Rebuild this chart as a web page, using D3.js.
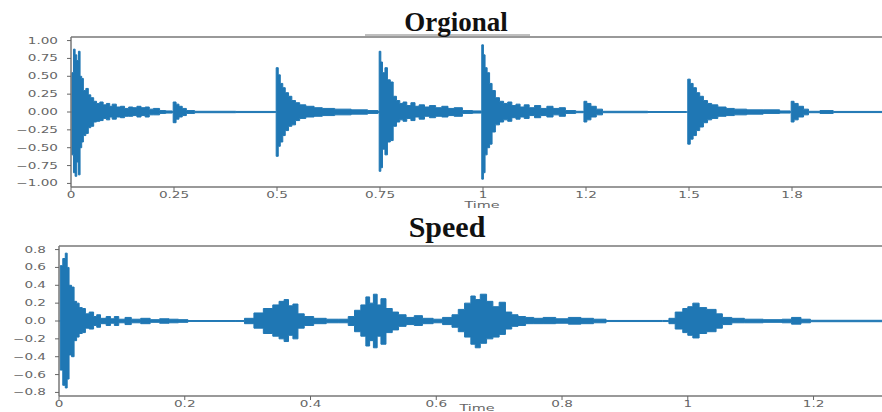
<!DOCTYPE html>
<html>
<head>
<meta charset="utf-8">
<script src="https://cdn.jsdelivr.net/npm/d3@7"></script>
<style>
    body { margin: 0; background: #fff; }
    svg { display: block; }
</style>
</head>
<body>
<div id="chart"></div>
<script>
// envelope of the original clip (seconds, upper, lower)
var origTime = [0.000, 0.002, 0.006, 0.010, 0.014, 0.018, 0.022, 0.026, 0.030, 0.036, 0.042, 0.048, 0.055, 0.062, 0.070, 0.078, 0.086, 0.094, 0.100, 0.110,
    0.120, 0.130, 0.140, 0.150, 0.160, 0.170, 0.180, 0.190, 0.200, 0.215, 0.230, 0.245, 0.248, 0.255, 0.262, 0.270, 0.280, 0.300, 0.400, 0.495,
    0.498, 0.503, 0.508, 0.514, 0.520, 0.528, 0.536, 0.545, 0.555, 0.570, 0.590, 0.610, 0.640, 0.680, 0.720, 0.745,
    0.748, 0.752, 0.756, 0.762, 0.768, 0.775, 0.782, 0.790, 0.798, 0.806, 0.815, 0.825, 0.835, 0.845, 0.858, 0.870, 0.885, 0.900, 0.915, 0.930, 0.950, 0.975, 0.995,
    0.997, 1.001, 1.005, 1.010, 1.016, 1.022, 1.030, 1.040, 1.050, 1.060, 1.070, 1.080, 1.090, 1.100, 1.112, 1.125, 1.140, 1.155, 1.170, 1.185, 1.200, 1.225, 1.243,
    1.245, 1.252, 1.262, 1.275, 1.290, 1.400, 1.494,
    1.497, 1.503, 1.510, 1.518, 1.526, 1.535, 1.545, 1.555, 1.570, 1.590, 1.610, 1.640, 1.680, 1.720, 1.746,
    1.748, 1.755, 1.765, 1.778, 1.790, 1.818, 1.850, 2.000];
var origUpper = [0.00, 0.55, 0.88, 0.80, 0.72, 0.85, 0.50, 0.47, 0.30, 0.33, 0.24, 0.20, 0.15, 0.12, 0.14, 0.10, 0.12, 0.08, 0.11, 0.07,
    0.08, 0.05, 0.07, 0.06, 0.08, 0.06, 0.07, 0.04, 0.05, 0.02, 0.015, 0.01, 0.14, 0.11, 0.08, 0.05, 0.02, 0.01, 0.008, 0.005,
    0.62, 0.52, 0.40, 0.34, 0.27, 0.22, 0.16, 0.13, 0.10, 0.08, 0.06, 0.05, 0.04, 0.03, 0.02, 0.01,
    0.85, 0.70, 0.55, 0.62, 0.45, 0.42, 0.22, 0.16, 0.12, 0.14, 0.09, 0.13, 0.08, 0.10, 0.07, 0.09, 0.06, 0.08, 0.05, 0.06, 0.02, 0.015, 0.01,
    0.94, 0.80, 0.62, 0.55, 0.40, 0.30, 0.20, 0.15, 0.12, 0.14, 0.09, 0.11, 0.07, 0.10, 0.06, 0.09, 0.05, 0.08, 0.05, 0.06, 0.02, 0.01, 0.005,
    0.15, 0.12, 0.08, 0.04, 0.01, 0.006, 0.005,
    0.46, 0.40, 0.34, 0.27, 0.22, 0.16, 0.12, 0.10, 0.07, 0.05, 0.04, 0.03, 0.03, 0.015, 0.005,
    0.15, 0.12, 0.08, 0.04, 0.01, 0.02, 0.008, 0.005];
var origLower = [0.00, -0.60, -0.85, -0.90, -0.70, -0.88, -0.50, -0.42, -0.33, -0.30, -0.22, -0.20, -0.14, -0.13, -0.12, -0.09, -0.11, -0.07, -0.10, -0.07,
    -0.08, -0.06, -0.06, -0.05, -0.07, -0.05, -0.07, -0.04, -0.04, -0.02, -0.015, -0.01, -0.15, -0.10, -0.07, -0.05, -0.02, -0.01, -0.008, -0.005,
    -0.62, -0.48, -0.42, -0.33, -0.26, -0.20, -0.18, -0.12, -0.09, -0.07, -0.06, -0.05, -0.04, -0.03, -0.02, -0.01,
    -0.83, -0.78, -0.52, -0.60, -0.42, -0.40, -0.20, -0.14, -0.11, -0.13, -0.09, -0.12, -0.07, -0.10, -0.06, -0.08, -0.06, -0.07, -0.05, -0.06, -0.02, -0.015, -0.01,
    -0.94, -0.85, -0.60, -0.50, -0.45, -0.28, -0.18, -0.14, -0.11, -0.13, -0.08, -0.10, -0.07, -0.09, -0.05, -0.08, -0.05, -0.07, -0.04, -0.06, -0.02, -0.01, -0.005,
    -0.14, -0.11, -0.07, -0.04, -0.01, -0.006, -0.005,
    -0.45, -0.38, -0.33, -0.26, -0.21, -0.15, -0.11, -0.09, -0.06, -0.05, -0.04, -0.03, -0.02, -0.015, -0.005,
    -0.14, -0.11, -0.07, -0.04, -0.01, -0.02, -0.008, -0.005];

// envelope of the sped-up clip
var speedTime = [0.000, 0.002, 0.006, 0.010, 0.013, 0.016, 0.020, 0.024, 0.028, 0.032, 0.037, 0.042, 0.048, 0.055, 0.060, 0.066, 0.075, 0.082, 0.088, 0.095,
    0.105, 0.115, 0.130, 0.145, 0.160, 0.175, 0.190, 0.205, 0.280,
    0.295, 0.310, 0.325, 0.340, 0.350, 0.358, 0.365, 0.372, 0.380, 0.390, 0.405, 0.425, 0.445,
    0.460, 0.470, 0.480, 0.488, 0.494, 0.500, 0.506, 0.512, 0.520, 0.530, 0.540, 0.552, 0.565, 0.578, 0.595,
    0.610, 0.625, 0.635, 0.645, 0.655, 0.662, 0.670, 0.680, 0.690, 0.700, 0.710, 0.720, 0.730, 0.742, 0.755, 0.770, 0.790, 0.810, 0.830, 0.850, 0.870, 0.960,
    0.970, 0.980, 0.992, 1.000, 1.008, 1.018, 1.030, 1.045, 1.055, 1.070, 1.090, 1.120, 1.150, 1.165, 1.180, 1.195, 1.320];
var speedUpper = [0.00, 0.62, 0.70, 0.76, 0.60, 0.40, 0.38, 0.22, 0.20, 0.15, 0.14, 0.08, 0.10, 0.05, 0.07, 0.03, 0.05, 0.025, 0.05, 0.02,
    0.04, 0.02, 0.03, 0.015, 0.025, 0.02, 0.015, 0.005, 0.005,
    0.03, 0.09, 0.14, 0.18, 0.22, 0.24, 0.17, 0.19, 0.08, 0.05, 0.03, 0.02, 0.02,
    0.05, 0.12, 0.18, 0.27, 0.20, 0.30, 0.18, 0.25, 0.14, 0.10, 0.07, 0.04, 0.06, 0.03, 0.02,
    0.04, 0.07, 0.13, 0.20, 0.28, 0.24, 0.30, 0.22, 0.16, 0.21, 0.10, 0.07, 0.05, 0.04, 0.03, 0.04, 0.025, 0.04, 0.03, 0.02, 0.006, 0.006,
    0.03, 0.10, 0.14, 0.16, 0.20, 0.15, 0.13, 0.08, 0.04, 0.03, 0.02, 0.015, 0.02, 0.04, 0.02, 0.008, 0.005];
var speedLower = [0.00, -0.55, -0.72, -0.75, -0.65, -0.38, -0.40, -0.22, -0.18, -0.14, -0.13, -0.08, -0.09, -0.05, -0.07, -0.03, -0.05, -0.025, -0.05, -0.02,
    -0.04, -0.02, -0.03, -0.015, -0.025, -0.02, -0.015, -0.005, -0.005,
    -0.03, -0.08, -0.14, -0.17, -0.20, -0.23, -0.16, -0.20, -0.08, -0.05, -0.03, -0.02, -0.02,
    -0.05, -0.12, -0.17, -0.28, -0.22, -0.30, -0.17, -0.26, -0.13, -0.10, -0.06, -0.04, -0.05, -0.03, -0.02,
    -0.04, -0.07, -0.12, -0.18, -0.26, -0.30, -0.25, -0.20, -0.18, -0.15, -0.09, -0.06, -0.05, -0.03, -0.03, -0.03, -0.025, -0.035, -0.03, -0.02, -0.006, -0.006,
    -0.03, -0.09, -0.13, -0.16, -0.19, -0.14, -0.12, -0.08, -0.04, -0.02, -0.02, -0.015, -0.02, -0.035, -0.02, -0.008, -0.005];

var origXTicks = [0, 0.25, 0.5, 0.75, 1, 1.25, 1.5, 1.75];
var origXLabels = ['0', '0.25', '0.5', '0.75', '1', '1.2', '1.5', '1.8'];
var origYTicks = [1, 0.75, 0.5, 0.25, 0, -0.25, -0.5, -0.75, -1];
var speedXTicks = [0, 0.2, 0.4, 0.6, 0.8, 1, 1.2];
var speedXLabels = ['0', '0.2', '0.4', '0.6', '0.8', '1', '1.2'];
var speedYTicks = [0.8, 0.6, 0.4, 0.2, 0, -0.2, -0.4, -0.6, -0.8];

var Waveform = function() {
    var left = 0, top = 0, width = 100, height = 100;
    var xMax = 1, yMax = 1;
    var title = '', titleSize = 24, titleX = 0, titleY = 0;
    var xTicks = [], xLabels = [], yTicks = [], yFormat = String;
    var timeX = 0, timeY = 0;

    var chart = function(selection) {
        selection.each(function(data) {
            var svg = d3.select(this);
            var g = svg.append('g').attr('transform', 'translate(' + left + ',' + top + ')');

            var x = d3.scaleLinear().domain([0, xMax]).range([0, width]);
            var y = d3.scaleLinear().domain([-yMax, yMax]).range([height, 0]);

            var pts = data.time.map(function(t, i) {
                return {t: t, up: data.upper[i], lo: data.lower[i]};
            });

            var area = d3.area()
                .curve(d3.curveStepAfter)
                .x(function(d) { return x(d.t); })
                .y0(function(d) { return y(d.lo); })
                .y1(function(d) { return y(d.up); });

            g.append('path')
                .datum(pts)
                .attr('d', area)
                .attr('fill', '#1f77b4')
                .attr('stroke', '#1f77b4')
                .attr('stroke-width', 1);

            // spines
            g.append('line').attr('x1', 0).attr('x2', width + 20).attr('y1', 0).attr('y2', 0)
                .attr('stroke', '#999').attr('stroke-width', 2);
            g.append('line').attr('x1', 0).attr('x2', width + 20).attr('y1', height).attr('y2', height)
                .attr('stroke', '#999').attr('stroke-width', 2);
            g.append('line').attr('x1', 0).attr('x2', 0).attr('y1', 0).attr('y2', height)
                .attr('stroke', '#777').attr('stroke-width', 1.5);

            var xt = g.selectAll('g.xtick').data(xTicks).enter().append('g')
                .attr('class', 'xtick')
                .attr('transform', function(d) { return 'translate(' + x(d) + ',' + height + ')'; });
            xt.append('line').attr('y1', 0).attr('y2', 4).attr('stroke', '#666');
            xt.append('text')
                .attr('transform', 'translate(0,11) scale(1.6,1)')
                .attr('text-anchor', 'middle')
                .style('font-family', 'DejaVu Sans')
                .style('font-size', '8.5px')
                .attr('fill', '#666')
                .text(function(d, i) { return xLabels[i]; });

            var yt = g.selectAll('g.ytick').data(yTicks).enter().append('g')
                .attr('class', 'ytick')
                .attr('transform', function(d) { return 'translate(0,' + y(d) + ')'; });
            yt.append('line').attr('x1', 0).attr('x2', -4).attr('stroke', '#666');
            yt.append('text')
                .attr('transform', 'translate(-13,3) scale(1.6,1)')
                .attr('text-anchor', 'end')
                .style('font-family', 'DejaVu Sans')
                .style('font-size', '8.5px')
                .attr('fill', '#666')
                .text(yFormat);

            svg.append('text')
                .attr('transform', 'translate(' + timeX + ',' + timeY + ') scale(1.6,1)')
                .attr('text-anchor', 'middle')
                .style('font-family', 'DejaVu Sans')
                .style('font-size', '9px')
                .attr('fill', '#666')
                .text('Time');

            svg.append('text')
                .attr('x', titleX)
                .attr('y', titleY)
                .attr('text-anchor', 'middle')
                .style('font-family', 'Liberation Serif')
                .style('font-weight', 'bold')
                .style('font-size', titleSize + 'px')
                .attr('fill', '#111')
                .text(title);
        });
    };

    chart.frame = function(l, t, w, h) { left = l; top = t; width = w; height = h; return this; };
    chart.domain = function(xm, ym) { xMax = xm; yMax = ym; return this; };
    chart.title = function(s, size, tx, ty) { title = s; titleSize = size; titleX = tx; titleY = ty; return this; };
    chart.ticks = function(xt, xl, yt, yf) { xTicks = xt; xLabels = xl; yTicks = yt; yFormat = yf; return this; };
    chart.timeLabel = function(tx, ty) { timeX = tx; timeY = ty; return this; };

    return chart;
};

var minus = function(s) { return s.replace('-', '\u2212'); };

var svg = d3.select('#chart').append('svg').attr('width', 882).attr('height', 412);

// faint rule under the first title
svg.append('line').attr('x1', 365).attr('x2', 530).attr('y1', 35).attr('y2', 35)
    .attr('stroke', '#aaa').attr('stroke-width', 1.5);

var origPanel = svg.append('g').datum({time: origTime, upper: origUpper, lower: origLower});
origPanel.call(Waveform()
    .frame(71, 37, 824, 150)
    .domain(2.0, 1.05)
    .title('Orgional', 27, 456, 31)
    .ticks(origXTicks, origXLabels, origYTicks, function(d) { return minus(d3.format('.2f')(d)); })
    .timeLabel(482, 208));

var speedPanel = svg.append('g').datum({time: speedTime, upper: speedUpper, lower: speedLower});
speedPanel.call(Waveform()
    .frame(59, 246, 830, 150)
    .domain(1.32, 0.84)
    .title('Speed', 30, 447, 237)
    .ticks(speedXTicks, speedXLabels, speedYTicks, function(d) { return minus(d3.format('.1f')(d)); })
    .timeLabel(477, 411));
</script>
</body>
</html>
